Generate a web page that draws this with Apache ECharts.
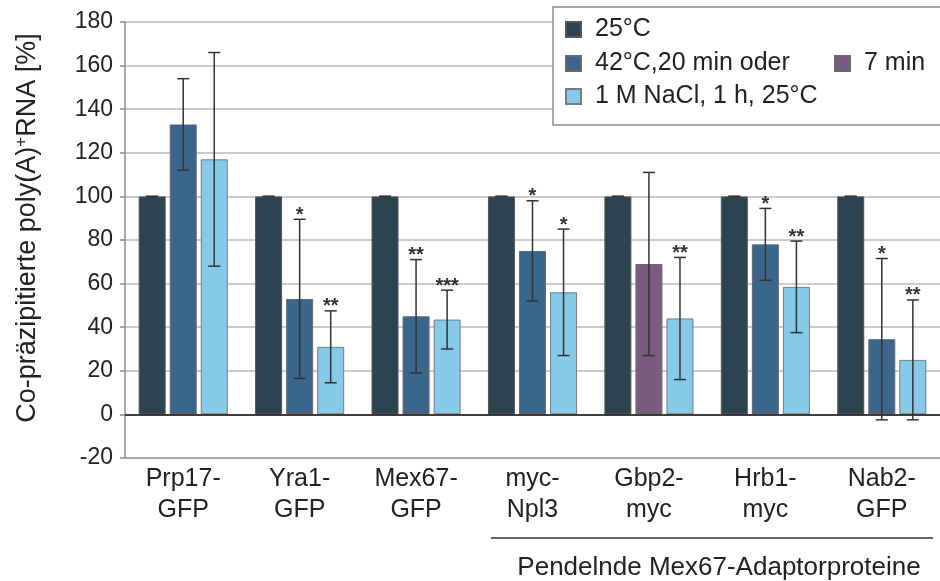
<!DOCTYPE html>
<html>
<head>
<meta charset="utf-8">
<script src="https://cdn.jsdelivr.net/npm/echarts@6/dist/echarts.min.js"></script>
<style>
html,body{margin:0;padding:0;background:#fff;}
#chart{width:940px;height:581px;}
</style>
</head>
<body>
<div id="chart"></div>
<script>
// ---- data ----
const categories = ['Prp17-\nGFP', 'Yra1-\nGFP', 'Mex67-\nGFP', 'myc-\nNpl3', 'Gbp2-\nmyc', 'Hrb1-\nmyc', 'Nab2-\nGFP'];
const seriesNames = ['25°C', '42°C,20 min oder', '7 min', '1 M NaCl, 1 h, 25°C'];
const val25 = [100, 100, 100, 100, 100, 100, 100];
const err25 = [0, 0, 0, 0, 0, 0, 0];
const val42 = [133, 53, 45, 75, null, 78, 34.5];
const val7min = [null, null, null, null, 69, null, null];
const err42 = [21, 36.5, 26, 23, 42, 16.5, 37];
const valNaCl = [117, 31, 43.5, 56, 44, 58.5, 25];
const errNaCl = [49, 16.5, 13.5, 29, 28, 21, 27.5];
const sig42 = ['', '*', '**', '*', '', '*', '*'];
const sigNaCl = ['', '**', '***', '*', '**', '**', '**'];
const yMin = -20, yMax = 180, yStep = 20;
const yTitle = '{a|Co-präzipitierte poly(A)}{s|+}{a|RNA [%]}';
const groupLabel = 'Pendelnde Mex67-Adaptorproteine';

// ---- style ----
const FONT = '"Liberation Sans", Arial, sans-serif';
const colors = ['#2e4350', '#3a658d', '#785b7e', '#86c9e9'];
const BAR_W = 27, BAR_GAP = 0.15;
const SLOT = BAR_W * (1 + BAR_GAP);
const TXT = '#222';

const mid = val42.map((v, i) => v != null ? v : val7min[i]);

function errSeries(vals, errs, sigs, slot) {
  return {
    type: 'custom',
    z: 5,
    silent: true,
    data: vals.map((v, i) => [i, v, errs[i]]),
    renderItem: function (params, api) {
      const i = api.value(0), v = api.value(1), e = api.value(2);
      const c = api.coord([i, v]);
      const x = c[0] + slot * SLOT;
      const yt = api.coord([i, v + e])[1];
      const yb = api.coord([i, v - e])[1];
      const st = { stroke: '#333', lineWidth: 1.5 };
      const ch = [
        { type: 'line', shape: { x1: x - 6, y1: yt, x2: x + 6, y2: yt }, style: st },
        { type: 'line', shape: { x1: x - 6, y1: yb, x2: x + 6, y2: yb }, style: st },
        { type: 'line', shape: { x1: x, y1: yt, x2: x, y2: yb }, style: st }
      ];
      const s = sigs ? sigs[params.dataIndex] : '';
      if (s) {
        ch.push({ type: 'text', style: { text: s, x: x, y: yt - 4, align: 'center', verticalAlign: 'middle',
          font: 'bold 20px ' + FONT, fill: '#333' } });
      }
      return { type: 'group', children: ch };
    }
  };
}

const chart = echarts.init(document.getElementById('chart'));
const legendBase = {
  orient: 'horizontal', padding: 0, itemWidth: 15, itemHeight: 15, icon: 'rect',
  selectedMode: false,
  textStyle: { fontSize: 25, color: TXT, fontFamily: FONT, padding: [0, 0, 0, 9] }
};
chart.setOption({
  animation: false,
  textStyle: { fontFamily: FONT },
  grid: { left: 125, width: 823, top: 22, bottom: 123, containLabel: false },
  legend: [
    Object.assign({}, legendBase, { data: [seriesNames[0]], left: 565, top: 17 }),
    Object.assign({}, legendBase, { data: [seriesNames[1]], left: 565, top: 51 }),
    Object.assign({}, legendBase, { data: [seriesNames[2]], left: 834, top: 51 }),
    Object.assign({}, legendBase, { data: [seriesNames[3]], left: 565, top: 84 })
  ],
  graphic: [
    { type: 'rect', z: 3, shape: { x: 553, y: 7, width: 420, height: 118 },
      style: { fill: '#fff', stroke: '#8c8c8c', lineWidth: 1.5 } },
    { type: 'line', z: 3, shape: { x1: 491, y1: 538, x2: 933, y2: 538 },
      style: { stroke: '#333', lineWidth: 1.5 } },
    { type: 'text', z: 3, x: 719, y: 568,
      style: { text: groupLabel, align: 'center', verticalAlign: 'middle', font: '26px ' + FONT, fill: TXT } }
  ],
  xAxis: {
    type: 'category', data: categories,
    axisLine: { onZero: false, lineStyle: { color: '#9a9a9a', width: 1.5 } },
    axisTick: { show: false },
    axisLabel: { fontSize: 25, lineHeight: 31, color: TXT, margin: 6, interval: 0 }
  },
  yAxis: {
    type: 'value', min: yMin, max: yMax, interval: yStep,
    name: yTitle, nameLocation: 'middle', nameGap: 82, nameRotate: 90,
    nameTextStyle: {
      padding: [0, 0, 0, 24],
      rich: {
        a: { fontSize: 27, color: TXT, lineHeight: 30, fontFamily: FONT },
        s: { fontSize: 17, color: TXT, lineHeight: 30, verticalAlign: 'top', fontFamily: FONT }
      }
    },
    axisLine: { show: true, lineStyle: { color: '#8c8c8c', width: 1.5 } },
    axisTick: { show: true, length: 5, lineStyle: { color: '#8c8c8c', width: 1.5 } },
    axisLabel: { fontSize: 23, color: TXT, margin: 12 },
    splitLine: { lineStyle: { color: '#c2b9b6', width: 1.5 } }
  },
  series: [
    { name: seriesNames[0], type: 'bar', data: val25, barWidth: BAR_W, barGap: (BAR_GAP * 100) + '%',
      itemStyle: { color: colors[0], borderColor: '#555', borderWidth: 1 },
      markLine: { silent: true, symbol: ['none', 'none'], label: { show: false },
        lineStyle: { color: '#111', width: 1.5, type: 'solid' }, data: [{ yAxis: 0 }] } },
    { name: seriesNames[1], type: 'bar', stack: 'm', data: val42, barWidth: BAR_W, barGap: (BAR_GAP * 100) + '%',
      itemStyle: { color: colors[1], borderColor: '#6a6a6a', borderWidth: 1 } },
    { name: seriesNames[2], type: 'bar', stack: 'm', data: val7min, barWidth: BAR_W, barGap: (BAR_GAP * 100) + '%',
      itemStyle: { color: colors[2], borderColor: '#6a6a6a', borderWidth: 1 } },
    { name: seriesNames[3], type: 'bar', data: valNaCl, barWidth: BAR_W, barGap: (BAR_GAP * 100) + '%',
      itemStyle: { color: colors[3], borderColor: '#7a7a7a', borderWidth: 1 } },
    errSeries(val25, err25, null, -1),
    errSeries(mid, err42, sig42, 0),
    errSeries(valNaCl, errNaCl, sigNaCl, 1)
  ]
});
</script>
</body>
</html>
